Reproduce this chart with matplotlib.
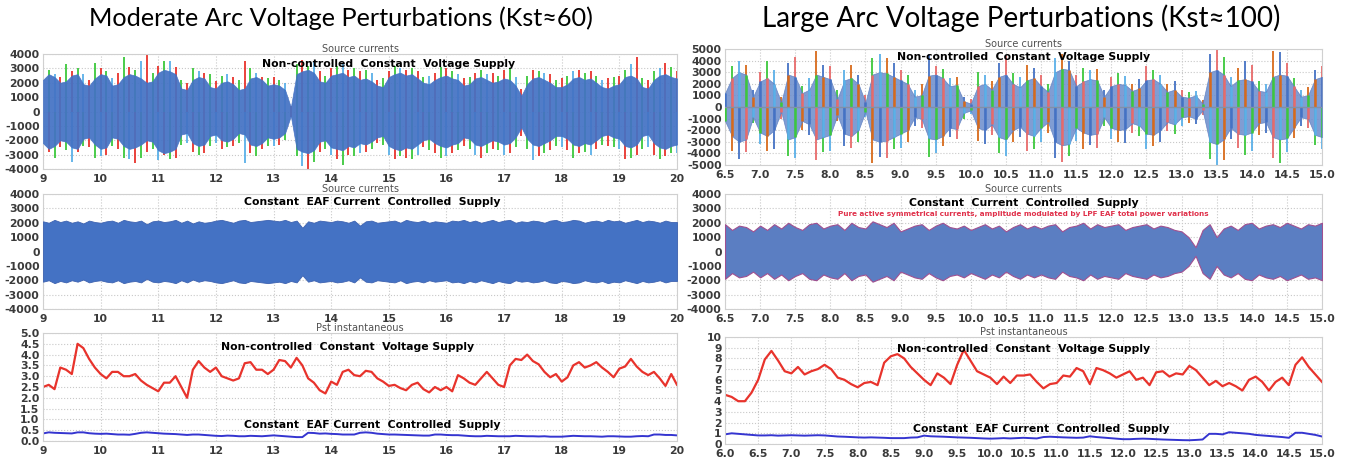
import matplotlib
matplotlib.use("Agg")
import matplotlib.pyplot as plt
import numpy as np

# ---- data ----
# left column: moderate perturbations, t = 9.0 .. 20.0 s every 0.1 s
t_left = np.round(np.arange(90, 201) / 10.0, 1)

cur_left_core = [
    2200, 2600, 2400, 2000, 2100, 2500, 2600, 1900, 1800, 2300,
    2600, 2500, 1800, 1900, 2400, 2600, 2500, 2300, 2000, 2100,
    2700, 2900, 2800, 2600, 1600, 1500, 2200, 2400, 2300, 1700,
    1600, 2000, 2100, 1900, 1500, 1600, 2300, 2400, 2200, 1800,
    1900, 1800, 1500, 300, 2600, 2800, 2900, 2700, 2100, 2000,
    2500, 2600, 2700, 2400, 2500, 2200, 2300, 2100, 1800, 1700,
    2400, 2600, 2700, 2500, 2600, 2300, 2000, 1900, 2200, 2400,
    2500, 2300, 2200, 1800, 1900, 2300, 2400, 2200, 2000, 2100,
    2300, 2200, 1800, 1100, 1900, 2300, 2400, 2200, 2000, 1700,
    1700, 1900, 2300, 2400, 2200, 2300, 2000, 1700, 1600, 1800,
    1900, 2400, 2500, 2300, 1700, 1600, 2200, 2500, 2600, 2400,
    2300]
cur_left_hi = [
    3000, 2900, 2600, 2400, 3300, 2800, 3000, 2600, 2200, 3400,
    3000, 2800, 2300, 2700, 3800, 3100, 2900, 3500, 4000, 2700,
    3200, 3500, 3500, 3100, 2200, 2000, 3000, 2800, 2700, 2600,
    2100, 2500, 2600, 2400, 2200, 3500, 3000, 2700, 2400, 2300,
    2400, 2200, 2000, 400, 3300, 3600, 3200, 3500, 2800, 2500,
    3000, 3200, 3300, 2900, 3000, 2800, 2900, 2700, 2200, 2300,
    2800, 3200, 3000, 2900, 3000, 2800, 2400, 2500, 2700, 3100,
    3000, 2800, 2600, 2300, 2400, 2700, 2900, 2600, 2700, 2500,
    2900, 3000, 2400, 1600, 2500, 2900, 2800, 2700, 2600, 2200,
    2300, 2500, 2800, 2900, 2700, 2800, 2500, 2200, 2300, 2400,
    2500, 2900, 3300, 3800, 2300, 2200, 2800, 3000, 3400, 3100,
    2800]
cur_left_lo = [
    -3000, -2800, -3200, -2500, -2700, -3500, -2800, -2400, -2500, -3200,
    -3100, -3000, -2400, -2600, -3200, -3300, -3600, -3200, -2800, -2600,
    -3400, -3000, -3300, -3200, -2300, -2200, -2800, -3000, -2900, -2400,
    -2200, -2600, -2500, -2400, -2200, -3600, -2900, -3100, -2600, -2400,
    -2400, -2300, -2000, -400, -3100, -3800, -4000, -3500, -2800, -2600,
    -3000, -3300, -3700, -3000, -3100, -2900, -2800, -2600, -2200, -2300,
    -3000, -3300, -3100, -3200, -3300, -3000, -2500, -2700, -2900, -3200,
    -3100, -2900, -2700, -2400, -2600, -3000, -3200, -2900, -2600, -2700,
    -3000, -2900, -2500, -1700, -2600, -3400, -3100, -2900, -2700, -2400,
    -2500, -2700, -3200, -2900, -2800, -3000, -2600, -2300, -2400, -2500,
    -2600, -3300, -3200, -3000, -2600, -2500, -3000, -3300, -3100, -2900,
    -2900]
cur_left_ctrl = [
    2100, 2000, 2200, 2050, 2150, 2000, 2100, 1950, 2150, 2050,
    2000, 2100, 2150, 2000, 2200, 2100, 2050, 2150, 1900, 2100,
    2150, 2050, 2100, 2200, 2000, 2150, 1950, 2100, 2000, 2050,
    2150, 2200, 2100, 2000, 2150, 2200, 2050, 2100, 2150, 2200,
    2150, 2100, 2200, 2050, 2150, 1650, 2100, 2000, 2150, 2100,
    2050, 2150, 2100, 2000, 2150, 1800, 2100, 2150, 2000, 2050,
    2100, 2150, 2000, 2200, 2100, 2050, 2150, 2000, 2100, 2050,
    2000, 2150, 2100, 2200, 2050, 2150, 2000, 2100, 2200, 2050,
    2150, 2200, 2000, 2100, 2050, 2150, 2100, 2000, 2150, 2200,
    2050, 2100, 2200, 2150, 2000, 2100, 2150, 2050, 2200, 2100,
    2150, 2000, 2100, 2200, 2050, 2150, 2100, 2000, 2150, 2050,
    2050]
pst_left_red = [
    2.5, 2.6, 2.4, 3.4, 3.3, 3.1, 4.5, 4.3, 3.8, 3.4,
    3.1, 2.9, 3.2, 3.2, 3.0, 3.0, 3.1, 2.8, 2.6, 2.45,
    2.3, 2.7, 2.7, 3.0, 2.5, 2.0, 3.3, 3.7, 3.4, 3.2,
    3.4, 3.0, 2.9, 2.8, 2.9, 3.6, 3.65, 3.3, 3.3, 3.1,
    3.3, 3.75, 3.7, 3.4, 3.85, 3.5, 2.9, 2.7, 2.35, 2.2,
    2.75, 2.6, 3.2, 3.3, 3.05, 3.0, 3.25, 3.2, 2.9, 2.75,
    2.55, 2.6, 2.45, 2.35, 2.6, 2.7, 2.4, 2.25, 2.5, 2.35,
    2.5, 2.3, 3.05, 2.9, 2.7, 2.6, 2.9, 3.2, 2.9, 2.6,
    2.5, 3.5, 3.8, 3.75, 4.0, 3.7, 3.55, 3.2, 2.95, 3.1,
    2.75, 2.95, 3.5, 3.65, 3.4, 3.5, 3.65, 3.4, 3.2, 2.95,
    3.35, 3.45, 3.8, 3.45, 3.2, 3.05, 3.2, 2.9, 2.55, 3.1,
    2.6]
pst_left_blue = [
    0.35, 0.4, 0.38, 0.37, 0.36, 0.35, 0.4, 0.4, 0.36, 0.34,
    0.33, 0.34, 0.32, 0.3, 0.3, 0.29, 0.33, 0.38, 0.4, 0.38,
    0.36, 0.34, 0.33, 0.32, 0.3, 0.28, 0.3, 0.3, 0.28, 0.26,
    0.24, 0.23, 0.25, 0.24, 0.22, 0.22, 0.24, 0.23, 0.22, 0.24,
    0.26, 0.24, 0.22, 0.2, 0.18, 0.18, 0.38, 0.37, 0.34, 0.35,
    0.33, 0.32, 0.3, 0.3, 0.3, 0.38, 0.4, 0.38, 0.34, 0.32,
    0.3, 0.3, 0.29, 0.28, 0.27, 0.26, 0.25, 0.25, 0.3, 0.3,
    0.28, 0.27, 0.27, 0.25, 0.23, 0.22, 0.22, 0.24, 0.23, 0.22,
    0.22, 0.22, 0.24, 0.23, 0.22, 0.22, 0.21, 0.22, 0.2, 0.2,
    0.2, 0.22, 0.24, 0.23, 0.22, 0.22, 0.21, 0.2, 0.22, 0.22,
    0.21, 0.2, 0.2, 0.22, 0.23, 0.22, 0.3, 0.3, 0.28, 0.28,
    0.26]

# right column: large perturbations, currents t = 6.5 .. 15.0 s, Pst t = 6.0 .. 15.0 s
t_right = np.round(np.arange(65, 151) / 10.0, 1)
t_right_pst = np.round(np.arange(60, 151) / 10.0, 1)

cur_right_core = [
    1200, 2500, 3000, 2800, 900,
    2200, 2500, 2000, 400, 2800, 2600, 1200, 1500, 2800, 2600,
    2400, 700, 2300, 2500, 2000, 400, 2800, 3000, 2900, 2600,
    2300, 2000, 900, 1000, 2700, 2800, 2500, 1800, 1900, 500,
    300, 1800, 2000, 1500, 2600, 2800, 2000, 1700, 2300, 2500,
    1800, 1300, 3000, 3300, 3200, 1800, 2200, 2400, 2300, 900,
    1800, 2000, 1900, 1400, 1600, 2300, 2400, 2000, 1300, 1500,
    900, 800, 1000, 300, 3000, 3200, 2800, 1800, 2300, 2400,
    2200, 1400, 1300, 2600, 2800, 2700, 1800, 900, 1000, 2400,
    2600]
cur_right_hi = [
    1800, 3500, 4000, 3600, 1500,
    3000, 4000, 3200, 900, 3800, 4300, 1800, 2500, 4800, 3600,
    3500, 1500, 3200, 3600, 2800, 1000, 4200, 4600, 4200, 3800,
    3200, 2800, 1500, 2000, 4600, 3500, 3300, 2500, 2600, 900,
    700, 3000, 2800, 2200, 3800, 4400, 2900, 2600, 3600, 3400,
    2800, 2000, 4200, 4600, 4000, 2800, 3400, 3200, 3300, 1500,
    2600, 2900, 2700, 2000, 2400, 3500, 3200, 2800, 2000, 2200,
    1500, 1300, 1400, 600, 4600, 5000, 4300, 2600, 3400, 4000,
    3600, 2200, 2000, 4800, 4700, 3800, 2500, 1500, 1700, 3200,
    3500]
cur_right_lo = [
    -1600, -3800, -4500, -3900, -1400,
    -3200, -3800, -3600, -1000, -4200, -4400, -2000, -2400, -4600, -3900,
    -3800, -1200, -3400, -3500, -3000, -900, -4800, -4300, -4400, -3600,
    -3500, -3000, -1600, -1800, -4300, -4000, -3400, -2600, -2800, -1000,
    -600, -2900, -3200, -2400, -4000, -4200, -3000, -2600, -3800, -3600,
    -3000, -2200, -4400, -4700, -4200, -2900, -3600, -3300, -3500, -1600,
    -2800, -3000, -3100, -2200, -2500, -3600, -3400, -3000, -2100, -2300,
    -1600, -1400, -1500, -700, -4500, -5000, -4600, -2800, -3500, -4100,
    -3800, -2400, -2200, -4400, -4800, -3900, -2700, -1600, -1800, -3300,
    -3600]
cur_right_ctrl = [
    1900, 1500, 1800, 1700, 1400,
    1800, 1500, 1900, 1600, 2000, 1700, 1500, 1900, 2000, 1600,
    1800, 1900, 1500, 2000, 1700, 1600, 2100, 1900, 1700, 2000,
    1400, 1600, 1800, 1900, 1500, 1800, 2000, 1700, 1600, 1800,
    1500, 1700, 1900, 1600, 1800, 1400, 1700, 1900, 1600, 1800,
    1600, 1800, 1900, 1400, 1700, 1800, 2000, 1600, 1900, 1700,
    1800, 1900, 1500, 1700, 1800, 1900, 1600, 1800, 1700, 1500,
    1400, 1000, 300, 1500, 1900, 1000, 1600, 1800, 1500, 1900,
    2000, 1600, 1800, 1900, 1700, 2000, 1800, 1600, 1900, 1800,
    2000]
pst_right_red = [
    4.6, 4.4, 4.0, 4.0, 4.8, 6.0, 7.9, 8.7, 7.8, 6.8,
    6.6, 7.2, 6.5, 6.8, 7.0, 7.4, 7.0, 6.2, 6.0, 5.6,
    5.3, 5.7, 5.8, 5.5, 7.6, 8.2, 8.4, 8.0, 7.2, 6.6,
    6.0, 5.5, 6.6, 6.2, 5.6, 7.4, 8.8, 7.8, 6.8, 6.5,
    6.2, 5.6, 6.3, 5.7, 6.4, 6.4, 6.5, 5.8, 5.2, 5.6,
    5.7, 6.4, 6.3, 7.1, 6.8, 5.6, 7.1, 6.9, 6.6, 6.2,
    6.5, 6.8, 6.0, 6.2, 5.5, 6.7, 6.8, 6.3, 6.6, 6.5,
    7.3, 6.9, 6.2, 5.5, 5.9, 5.4, 5.7, 5.4, 5.0, 6.0,
    6.3, 5.8, 5.0, 5.8, 6.2, 5.5, 7.4, 8.1, 7.2, 6.5,
    5.8]
pst_right_blue = [
    0.9, 1.0, 0.95, 0.9, 0.85, 0.8, 0.8, 0.82, 0.78, 0.8,
    0.82, 0.8, 0.78, 0.8, 0.82, 0.8, 0.75, 0.7, 0.68, 0.65,
    0.62, 0.6, 0.62, 0.6, 0.58, 0.55, 0.55, 0.55, 0.6, 0.62,
    0.78, 0.72, 0.7, 0.68, 0.65, 0.62, 0.6, 0.58, 0.55, 0.52,
    0.5, 0.52, 0.55, 0.52, 0.55, 0.58, 0.55, 0.52, 0.65, 0.68,
    0.65, 0.62, 0.6, 0.58, 0.6, 0.72, 0.65, 0.6, 0.55, 0.5,
    0.45, 0.45, 0.48, 0.5, 0.48, 0.45, 0.42, 0.4, 0.38, 0.36,
    0.35, 0.38, 0.42, 0.95, 0.95, 0.9, 1.1, 1.05, 1.0, 0.95,
    0.85, 0.8, 0.75, 0.7, 0.65, 0.58, 1.05, 1.05, 0.95, 0.85,
    0.7]

# ---- styling helpers ----
BLUE = "#4472c4"
RED = "#e8332c"
PINK = "#e86a6a"
GREEN = "#3cc83c"
LBLUE = "#5ab0e8"
ORANGE = "#d86a1a"
TICK_KW = dict(labelsize=7.8, labelcolor="#3a3a3a", length=0)


def style_axes(ax, xlim, ylim, xticks, yticks, xfmt, yfmt, title):
    ax.set_xlim(*xlim)
    ax.set_ylim(*ylim)
    ax.set_xticks(xticks)
    ax.set_yticks(yticks)
    ax.set_xticklabels([xfmt.format(v) for v in xticks])
    ax.set_yticklabels([yfmt.format(v) for v in yticks])
    ax.tick_params(**TICK_KW)
    ax.tick_params(axis="x", pad=3.5)
    ax.tick_params(axis="y", pad=2.5)
    for lab in ax.get_xticklabels() + ax.get_yticklabels():
        lab.set_fontweight("bold")
    ax.grid(True, color="#c8c8c8", linestyle=":", linewidth=0.8)
    ax.set_axisbelow(True)
    for sp in ax.spines.values():
        sp.set_color("#d0d0d0")
        sp.set_linewidth(0.8)
    ax.set_title(title, fontsize=7, color="#505050", pad=1.5)


def note(ax, x, y, s, size=7.8, color="black"):
    ax.text(x, y, s, transform=ax.transAxes, ha="center", va="center",
            fontsize=size, fontweight="bold", color=color, zorder=10)


def spikes(ax, t, lo, hi, palette, lw, z=2, shift=2):
    # upper and lower tips of the phases drawn in different colours
    n = len(palette)
    up = [palette[i % n] for i in range(len(t))]
    dn = [palette[(i + shift) % n] for i in range(len(t))]
    ax.vlines(t, 0, hi, colors=up, linewidth=lw, zorder=z)
    ax.vlines(t, lo, 0, colors=dn, linewidth=lw, zorder=z)


fig = plt.figure(figsize=(13.46, 4.70), dpi=100)

L0, LW = 43 / 1346, 634 / 1346
R0, RW = 725 / 1346, 597 / 1346


def box(top, bottom):
    return 1 - bottom / 470, (bottom - top) / 470


# ---- left column ----
b, h = box(54, 169)
ax = fig.add_axes([L0, b, LW, h])
spikes(ax, t_left, cur_left_lo, cur_left_hi, [RED, GREEN, LBLUE, RED, GREEN], 1.3)
ax.fill_between(t_left, -np.array(cur_left_core), cur_left_core, color=BLUE,
                linewidth=0.5, edgecolor=BLUE, alpha=0.93, zorder=3)
style_axes(ax, (9, 20), (-4000, 4000), list(range(9, 21)), list(range(-4000, 4001, 1000)),
           "{:d}", "{:d}", "Source currents")
note(ax, 0.545, 0.91, "Non-controlled  Constant  Voltage Supply")

b, h = box(194, 309)
ax = fig.add_axes([L0, b, LW, h])
ax.fill_between(t_left, -np.array(cur_left_ctrl), cur_left_ctrl, color=BLUE,
                edgecolor="#3d62b0", linewidth=0.6, zorder=3)
style_axes(ax, (9, 20), (-4000, 4000), list(range(9, 21)), list(range(-4000, 4001, 1000)),
           "{:d}", "{:d}", "Source currents")
note(ax, 0.52, 0.93, "Constant  EAF Current  Controlled  Supply")

b, h = box(333, 441)
ax = fig.add_axes([L0, b, LW, h])
ax.plot(t_left, pst_left_red, color=RED, linewidth=1.6)
ax.plot(t_left, pst_left_blue, color="#3535d0", linewidth=1.4)
style_axes(ax, (9, 20), (0, 5), list(range(9, 21)), [i / 2 for i in range(11)],
           "{:d}", "{:.1f}", "Pst instantaneous")
note(ax, 0.48, 0.87, "Non-controlled  Constant  Voltage Supply")
note(ax, 0.52, 0.145, "Constant  EAF Current  Controlled  Supply")

# ---- right column ----
b, h = box(49, 165)
ax = fig.add_axes([R0, b, RW, h])
pal = [PINK, GREEN, LBLUE, ORANGE, BLUE]
spikes(ax, t_right, cur_right_lo, cur_right_hi, pal, 1.3)
ax.fill_between(t_right, -np.array(cur_right_core), cur_right_core, color="#6a8ccc",
                edgecolor="#5a7cc0", linewidth=0.5, alpha=0.85, zorder=3)
core_r = np.array(cur_right_core)
spikes(ax, t_right, -core_r, core_r, [BLUE, PINK, LBLUE, GREEN, ORANGE], 1.8, z=4, shift=3)
ax.axhline(0, color="#8090a8", linewidth=1.0, zorder=5)
xt = [6.5 + 0.5 * i for i in range(18)]
style_axes(ax, (6.5, 15.0), (-5000, 5000), xt, list(range(-5000, 5001, 1000)),
           "{:.1f}", "{:d}", "Source currents")
note(ax, 0.5, 0.93, "Non-controlled  Constant  Voltage Supply")

b, h = box(194, 309)
ax = fig.add_axes([R0, b, RW, h])
ax.fill_between(t_right, -np.array(cur_right_ctrl), cur_right_ctrl, color="#5b7ec2",
                edgecolor="#a05090", linewidth=0.8, zorder=3)
style_axes(ax, (6.5, 15.0), (-4000, 4000), xt, list(range(-4000, 4001, 1000)),
           "{:.1f}", "{:d}", "Source currents")
note(ax, 0.5, 0.92, "Constant  Current  Controlled  Supply")
note(ax, 0.5, 0.83, "Pure active symmetrical currents, amplitude modulated by LPF EAF total power variations",
     size=5.2, color="#e0304a")

b, h = box(337, 444)
ax = fig.add_axes([R0, b, RW, h])
ax.plot(t_right_pst, pst_right_red, color=RED, linewidth=1.6)
ax.plot(t_right_pst, pst_right_blue, color="#3535d0", linewidth=1.4)
xt2 = [6.0 + 0.5 * i for i in range(19)]
style_axes(ax, (6.0, 15.0), (0, 10), xt2, list(range(0, 11)),
           "{:.1f}", "{:d}", "Pst instantaneous")
note(ax, 0.5, 0.89, "Non-controlled  Constant  Voltage Supply")
note(ax, 0.53, 0.14, "Constant  EAF Current  Controlled  Supply")

# ---- column headers ----
fig.text(341 / 1346, 1 - 18 / 470, "Moderate Arc Voltage Perturbations (Kst\u224860)",
         ha="center", va="center", fontsize=18.2, family="Lato")
fig.text(1021 / 1346, 1 - 18 / 470, "Large Arc Voltage Perturbations (Kst\u2248100)",
         ha="center", va="center", fontsize=20, family="Lato")

fig.savefig("out.png", dpi=100)
